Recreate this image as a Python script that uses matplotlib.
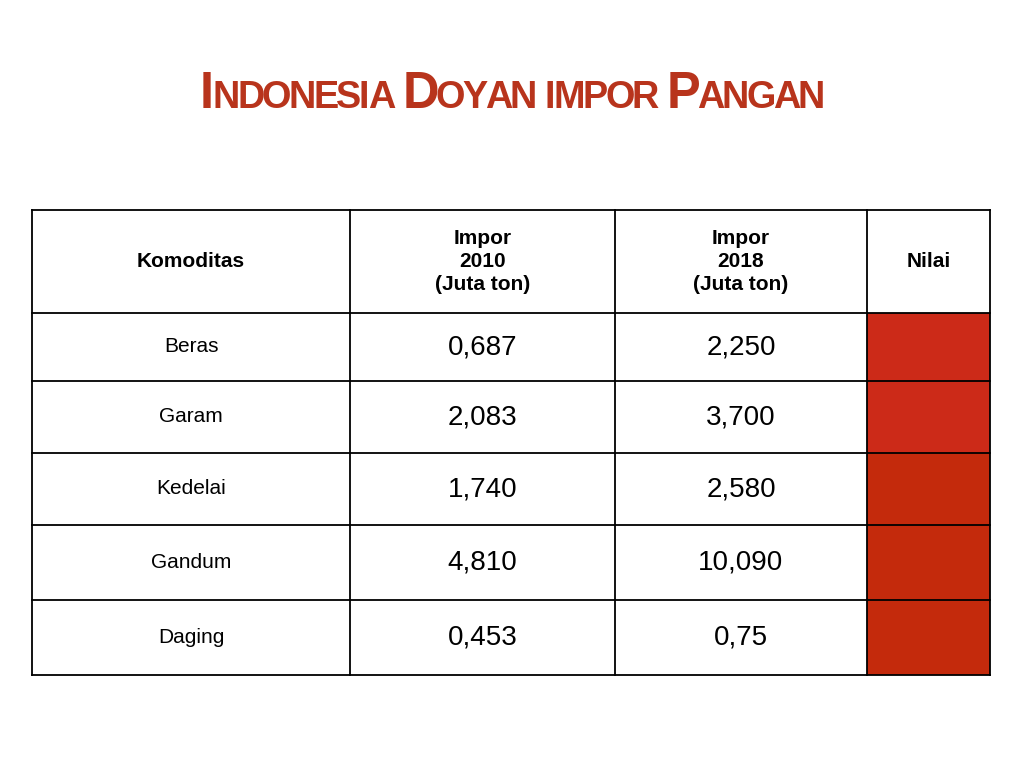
import matplotlib.pyplot as plt
from matplotlib.patches import Rectangle

title = "Indonesia Doyan impor Pangan"
headers = ["Komoditas", "Impor\n2010\n(Juta ton)", "Impor\n2018\n(Juta ton)", "Nilai"]
komoditas = ["Beras", "Garam", "Kedelai", "Gandum", "Daging"]
impor_2010 = ["0,687", "2,083", "1,740", "4,810", "0,453"]
impor_2018 = ["2,250", "3,700", "2,580", "10,090", "0,75"]
nilai_colors = ["#cc2a18", "#cc2a18", "#c42a0c", "#c42a0c", "#c42a0c"]

col_x = [32, 350, 615, 867, 990]
row_y = [210, 313, 381, 453, 525, 600, 675]

plt.rcParams['font.family'] = 'Liberation Sans'
fig = plt.figure(figsize=(10.24, 7.68), dpi=100)
ax = fig.add_axes([0, 0, 1, 1])
ax.set_xlim(0, 1024)
ax.set_ylim(768, 0)
ax.axis('off')

# title in fake small caps
red = "#b8341c"
fig.canvas.draw()
r = fig.canvas.get_renderer()
pieces = [(ch.upper(), 36 if ch.isupper() else 27) for ch in title]
widths = []
for s, fs in pieces:
    t = ax.text(0, 0, s if s != " " else "i", fontsize=fs, fontweight='bold', color=red)
    widths.append(t.get_window_extent(renderer=r).width * 0.9 if s != " " else 10)
    t.remove()
total = sum(widths)
scale = 622 / total
x = 511 - 622 / 2
for (s, fs), w in zip(pieces, widths):
    if s != " ":
        ax.text(x, 108, s, fontsize=fs * scale, fontweight='bold', color=red,
                va='baseline', ha='left')
    x += w * scale

# red cells
for i, c in enumerate(nilai_colors):
    ax.add_patch(Rectangle((col_x[3], row_y[i + 1]), col_x[4] - col_x[3],
                           row_y[i + 2] - row_y[i + 1], color=c, lw=0))

# grid
for y in row_y:
    ax.plot([col_x[0], col_x[-1]], [y, y], color='black', lw=1.3)
for x in col_x:
    ax.plot([x, x], [row_y[0], row_y[-1]], color='black', lw=1.3)

def cx(j):
    return (col_x[j] + col_x[j + 1]) / 2

def cy(i):
    return (row_y[i] + row_y[i + 1]) / 2

for j, h in enumerate(headers):
    ax.text(cx(j), cy(0), h, ha='center', va='center', fontsize=15,
            fontweight='bold', linespacing=1.25)
for i in range(len(komoditas)):
    ax.text(cx(0), cy(i + 1), komoditas[i], ha='center', va='center', fontsize=15)
    ax.text(cx(1), cy(i + 1), impor_2010[i], ha='center', va='center', fontsize=20)
    ax.text(cx(2), cy(i + 1), impor_2018[i], ha='center', va='center', fontsize=20)

fig.savefig('out.png', dpi=100)
